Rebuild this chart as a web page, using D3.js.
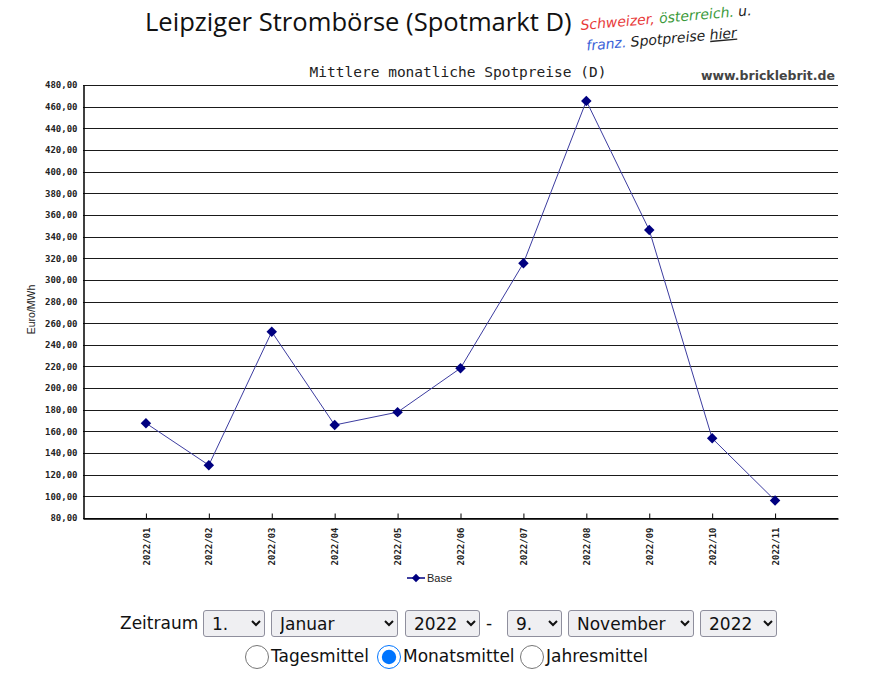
<!DOCTYPE html>
<html>
<head>
<meta charset="utf-8">
<script src="https://cdn.jsdelivr.net/npm/d3@7"></script>
<style>
  body { margin: 0; background: #fff; font-family: "DejaVu Sans", Verdana, sans-serif; }
  #chart { position: absolute; left: 0; top: 0; }
  .controls { position: absolute; left: 0; width: 881px; font-size: 17px; color: #111; }
  .row1 { top: 610px; }
  .row2 { top: 644px; }
  .controls span, .controls select, .controls input, .controls label { position: absolute; }
  select {
    height: 27px; font-size: 17px; font-family: "DejaVu Sans", Verdana, sans-serif;
    padding: 0 4px; border: 1px solid #8f8f9d; border-radius: 3px; background: #efeff2; color: #111;
  }
  input[type=radio] { width: 24px; height: 24px; margin: 0; }
</style>
</head>
<body>
<svg id="chart" width="881" height="600"></svg>

<div class="controls row1" id="row1"></div>
<div class="controls row2" id="row2"></div>

<script>
const months = ["2022/01", "2022/02", "2022/03", "2022/04", "2022/05", "2022/06",
                "2022/07", "2022/08", "2022/09", "2022/10", "2022/11"]
const base = [167.6, 128.8, 252.0, 165.9, 177.8, 218.4, 315.4, 465.3, 346.0, 153.6, 96.2]
const yTicks = [80, 100, 120, 140, 160, 180, 200, 220, 240, 260, 280, 300,
                320, 340, 360, 380, 400, 420, 440, 460, 480]

const margins = { top: 85, bottom: 82, left: 83, right: 43 }
const width = 881
const height = 600

let svg = d3.select("#chart")

let x_scale = d3.scalePoint(months, [margins.left, width - margins.right]).padding(1)
let y_scale = d3.scaleLinear([80, 480], [height - margins.bottom, margins.top])

const fmt = v => d3.format(".2f")(v).replace(".", ",")

// big page title
svg.append("text")
  .attr("x", 145).attr("y", 31)
  .style("font-family", "'Open Sans', 'Noto Sans', sans-serif")
  .style("font-size", "25.6px")
  .style("fill", "#111")
  .text("Leipziger Strombörse (Spotmarkt D)")

// scribbled link text
let note = svg.append("g").attr("transform", "translate(581,30) rotate(-5)")
  .style("font-family", "'DejaVu Sans', sans-serif")
  .style("font-style", "italic")
  .style("font-size", "14px")
let l1 = note.append("text")
l1.append("tspan").style("fill", "#e83a3a").text("Schweizer, ")
l1.append("tspan").style("fill", "#3b9a3b").text("österreich.")
l1.append("tspan").style("fill", "#222").text(" u.")
let l2 = note.append("text").attr("x", 4).attr("y", 21)
l2.append("tspan").style("fill", "#3a62d8").text("franz.")
l2.append("tspan").style("fill", "#222").text(" Spotpreise ")
l2.append("tspan").style("fill", "#222").style("text-decoration", "underline").text("hier")

// chart title and watermark
svg.append("text")
  .attr("x", 458).attr("y", 77)
  .attr("text-anchor", "middle")
  .style("font-family", "'DejaVu Sans Mono', monospace")
  .style("font-size", "14.5px")
  .style("fill", "#222")
  .text("Mittlere monatliche Spotpreise (D)")

svg.append("text")
  .attr("x", 835).attr("y", 80)
  .attr("text-anchor", "end")
  .style("font-family", "'DejaVu Sans', Verdana, sans-serif")
  .style("font-weight", "bold")
  .style("font-size", "12.5px")
  .style("fill", "#444")
  .text("www.bricklebrit.de")

// grid lines
svg.append("g")
  .selectAll("line")
  .data(yTicks)
  .join("line")
  .attr("x1", margins.left).attr("x2", width - margins.right)
  .attr("y1", d => Math.round(y_scale(d)) + 0.5)
  .attr("y2", d => Math.round(y_scale(d)) + 0.5)
  .style("stroke", "#1a1a1a")
  .style("stroke-width", 1)

// y axis
let y_axis = svg.append("g")
  .attr("transform", `translate(${margins.left + 0.5},0)`)
  .call(d3.axisLeft(y_scale).tickValues(yTicks).tickSize(0).tickPadding(6).tickFormat(fmt))
y_axis.select(".domain").style("stroke", "#000").style("stroke-width", 1.5)
y_axis.selectAll("text")
  .style("font-family", "'DejaVu Sans Mono', monospace")
  .style("font-weight", "bold")
  .style("font-size", "9px")
  .style("fill", "#222")

svg.append("text")
  .attr("transform", `translate(35,${(margins.top + height - margins.bottom) / 2 + 8}) rotate(-90)`)
  .attr("text-anchor", "middle")
  .style("font-family", "'Liberation Sans', Arial, sans-serif")
  .style("font-size", "10.5px")
  .style("fill", "#222")
  .text("Euro/MWh")

// x axis
let x_axis = svg.append("g")
  .attr("transform", `translate(0,${height - margins.bottom + 0.5})`)
  .call(d3.axisBottom(x_scale).tickSizeInner(-5).tickSizeOuter(0).tickPadding(9))
x_axis.select(".domain").style("stroke", "#000").style("stroke-width", 1.5)
x_axis.selectAll(".tick line").style("stroke", "#000")
x_axis.selectAll("text")
  .attr("transform", "rotate(-90)")
  .attr("text-anchor", "end")
  .attr("x", -9).attr("y", 0).attr("dy", "0.35em")
  .style("font-family", "'DejaVu Sans Mono', monospace")
  .style("font-weight", "bold")
  .style("font-size", "9px")
  .style("fill", "#222")

// series
let line = d3.line((d, i) => x_scale(months[i]), d => y_scale(d))
svg.append("path")
  .attr("d", line(base))
  .style("fill", "none")
  .style("stroke", "#3c3ca0")
  .style("stroke-width", 1)

let diamond = d3.symbol(d3.symbolDiamond2, 70)
svg.append("g")
  .selectAll("path")
  .data(base)
  .join("path")
  .attr("transform", (d, i) => `translate(${x_scale(months[i])},${y_scale(d)})`)
  .attr("d", diamond())
  .style("fill", "#000080")

// legend
let legend = svg.append("g").attr("transform", "translate(416,578)")
legend.append("line").attr("x1", -9).attr("x2", 9).style("stroke", "#000080").style("stroke-width", 1.5)
legend.append("path").attr("d", d3.symbol(d3.symbolDiamond2, 45)()).style("fill", "#000080")
legend.append("text")
  .attr("x", 11).attr("dy", "0.35em")
  .style("font-family", "'Liberation Sans', Arial, sans-serif")
  .style("font-size", "11px")
  .style("fill", "#222")
  .text("Base")

// form controls under the chart
const days = ["1.", "9."]
const monthNames = ["Januar", "November"]
const years = ["2022", "2022"]
const modes = ["Tagesmittel", "Monatsmittel", "Jahresmittel"]

let row1 = d3.select("#row1")
row1.append("span").style("left", "120px").style("top", "3px").text("Zeitraum")
let sel = (x, w, v) => row1.append("select").style("left", x + "px").style("width", w + "px")
  .append("option").text(v)
sel(203, 62, days[0])
sel(271, 127, monthNames[0])
sel(405, 75, years[0])
row1.append("span").style("left", "486px").style("top", "3px").text("-")
sel(507, 55, days[1])
sel(568, 126, monthNames[1])
sel(700, 77, years[1])

let row2 = d3.select("#row2")
const radioX = [245, 377, 520]
modes.forEach((m, i) => {
  row2.append("input").attr("type", "radio").attr("name", "mode")
    .property("checked", i === 1)
    .style("left", radioX[i] + "px").style("top", "1px")
  row2.append("label").style("left", (radioX[i] + 26) + "px").style("top", "2px").text(m)
})
</script>
</body>
</html>
